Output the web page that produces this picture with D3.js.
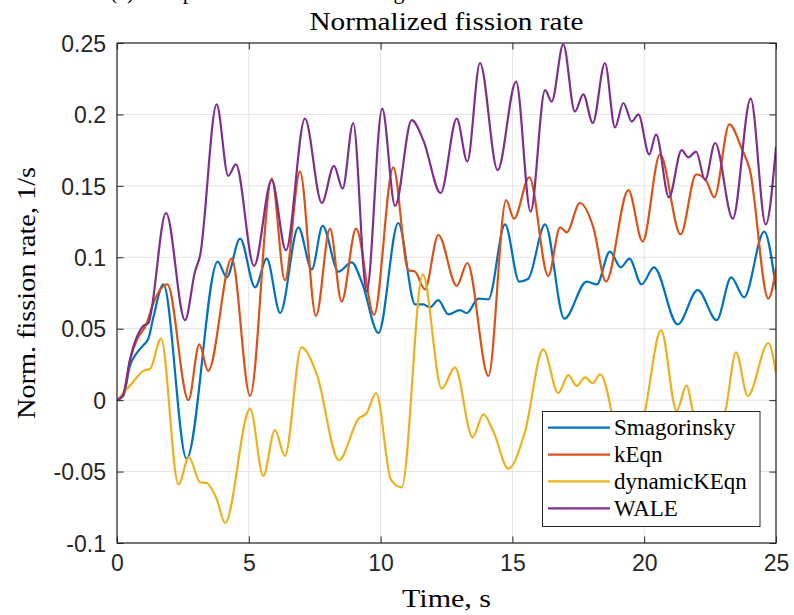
<!DOCTYPE html>
<html><head><meta charset="utf-8">
<script src="https://cdn.jsdelivr.net/npm/d3@7"></script>
<style>
html,body{margin:0;padding:0;background:#fff;}
svg{display:block;}
</style></head>
<body>
<svg id="chart" width="794" height="615"></svg>
<script>
// ---------- data ----------
const seriesNames = ["Smagorinsky", "kEqn", "dynamicKEqn", "WALE"];
const seriesColors = ["#0072BD", "#D95319", "#EDB120", "#7E2F8E"];

const smagT = [0,0.24,0.49,0.75,1.0,1.19,1.38,1.76,2.64,3.82,4.16,4.67,5.24,5.68,6.19,6.88,7.39,7.80,8.40,8.90,9.30,9.92,10.67,11.31,11.62,11.87,12.19,12.57,13.01,13.27,13.71,14.09,14.72,15.26,15.60,16.24,16.97,17.82,18.20,18.70,19.11,19.44,19.90,20.37,21.27,22.03,22.75,23.30,23.79,24.55,25];
const smagV = [0,0.003,0.024,0.033,0.0385,0.043,0.058,0.081,-0.041,0.097,0.086,0.113,0.079,0.099,0.061,0.121,0.0915,0.122,0.090,0.0965,0.082,0.047,0.124,0.067,0.067,0.065,0.070,0.060,0.063,0.061,0.071,0.0706,0.123,0.083,0.085,0.123,0.057,0.083,0.081,0.104,0.093,0.099,0.081,0.093,0.053,0.077,0.056,0.086,0.072,0.118,0.078];

const keqnT = [0,0.24,0.49,0.75,1.12,1.38,1.91,2.71,3.12,3.46,4.35,5.05,5.87,6.37,6.94,7.55,8.08,8.52,9.07,9.75,10.48,11.05,11.30,11.68,12.19,12.89,13.29,14.09,14.76,15.06,15.64,16.36,16.81,17.06,17.56,18.07,18.55,19.40,19.94,20.60,21.38,21.97,22.34,22.66,23.23,23.70,24.01,24.71,25];
const keqnV = [0,0.004,0.028,0.042,0.0535,0.068,0.081,0.0,0.039,0.0205,0.099,0.003,0.155,0.084,0.160,0.059,0.120,0.069,0.120,0.0596,0.163,0.091,0.090,0.0776,0.1156,0.080,0.096,0.017,0.140,0.127,0.156,0.087,0.121,0.1175,0.138,0.121,0.083,0.147,0.111,0.172,0.116,0.158,0.154,0.142,0.193,0.176,0.161,0.071,0.092];

const dynT = [0,0.49,1.0,1.26,1.67,2.33,2.73,3.15,3.40,3.78,4.10,5.05,5.55,5.99,6.37,7.00,7.58,8.42,9.16,9.47,9.83,10.40,10.80,11.60,12.32,12.82,13.49,13.90,14.28,14.85,15.48,16.17,16.74,17.12,17.44,17.75,18.05,18.33,19.30,20.00,20.64,21.23,21.61,21.85,22.40,23.10,23.48,23.93,24.71,25];
const dynV = [0,0.010,0.0205,0.022,0.043,-0.059,-0.040,-0.0575,-0.058,-0.069,-0.086,-0.006,-0.053,-0.021,-0.039,0.037,0.018,-0.042,-0.013,-0.009,0.005,-0.056,-0.061,0.088,0.008,0.023,-0.026,-0.010,-0.022,-0.048,-0.022,0.0355,0.005,0.0175,0.010,0.016,0.012,0.018,-0.045,-0.010,0.049,-0.0075,0.0103,-0.008,-0.035,-0.006,0.0335,0.003,0.040,0.019];

const waleT = [0,0.24,0.49,1.0,1.19,1.86,2.58,2.96,3.15,3.78,4.22,4.51,5.20,5.87,6.41,7.13,7.77,8.23,8.56,8.96,9.47,10.06,10.55,11.18,11.62,12.28,12.89,13.29,13.77,14.44,15.14,15.69,16.24,16.49,16.93,17.37,17.69,18.05,18.51,18.89,19.21,19.53,19.78,20.19,20.45,20.94,21.42,21.67,21.97,22.31,22.69,23.36,24.04,24.61,25];
const waleV = [0,0.004,0.028,0.052,0.054,0.131,0.056,0.090,0.101,0.207,0.157,0.165,0.094,0.154,0.105,0.197,0.138,0.164,0.148,0.194,0.076,0.204,0.136,0.196,0.182,0.145,0.197,0.167,0.236,0.161,0.223,0.132,0.217,0.209,0.249,0.202,0.214,0.194,0.236,0.191,0.208,0.195,0.200,0.172,0.186,0.142,0.175,0.170,0.174,0.154,0.180,0.127,0.211,0.123,0.177];

const xTicks = [0,5,10,15,20,25];
const xTickLabels = ["0","5","10","15","20","25"];
const yTicks = [-0.1,-0.05,0,0.05,0.1,0.15,0.2,0.25];
const yTickLabels = ["-0.1","-0.05","0","0.05","0.1","0.15","0.2","0.25"];

const titleText = "Normalized fission rate";
const xLabelText = "Time, s";
const yLabelText = "Norm. fission rate, 1/s";
const captionText = "(c) Comparison of LES modeling";

// ---------- layout ----------
const L = 117, R = 776, T = 43, B = 543;
const axisColor = "#262626";
const gridColor = "#e3e3e3";
const serif = "'Liberation Serif','Times New Roman',serif";
const sans = "'Liberation Sans',Arial,Helvetica,sans-serif";

const svg = d3.select("#chart");
const x = d3.scaleLinear().domain([0,25]).range([L,R]);
const y = d3.scaleLinear().domain([-0.1,0.25]).range([B,T]);

// caption (partly above the top edge, as in the reference)
svg.append("text").attr("x",110).attr("y",-1)
  .attr("font-family",serif).attr("font-size",22).attr("fill","#000")
  .text(captionText);

// grid
const grid = svg.append("g");
grid.selectAll("line.gx").data(xTicks).join("line")
  .attr("x1",d=>x(d)).attr("x2",d=>x(d)).attr("y1",T).attr("y2",B)
  .attr("stroke",gridColor).attr("stroke-width",1);
grid.selectAll("line.gy").data(yTicks).join("line")
  .attr("x1",L).attr("x2",R).attr("y1",d=>y(d)).attr("y2",d=>y(d))
  .attr("stroke",gridColor).attr("stroke-width",1);

// clip
svg.append("defs").append("clipPath").attr("id","clip")
  .append("rect").attr("x",L).attr("y",T).attr("width",R-L).attr("height",B-T);

const line = d3.line().x(d=>x(d[0])).y(d=>y(d[1])).curve(d3.curveMonotoneX);
const allT = [smagT, keqnT, dynT, waleT];
const allV = [smagV, keqnV, dynV, waleV];
const gl = svg.append("g").attr("clip-path","url(#clip)");
allT.forEach((ts,i)=>{
  const pts = ts.map((t,j)=>[t, allV[i][j]]);
  gl.append("path").attr("d", line(pts)).attr("fill","none")
    .attr("stroke", seriesColors[i]).attr("stroke-width",2.2)
    .attr("stroke-linejoin","round").attr("stroke-linecap","round");
});

// axes
const tk = 6.6;
function styleAxis(g){
  g.select(".domain").remove();
  g.selectAll(".tick line").attr("stroke",axisColor).attr("stroke-width",1);
  g.selectAll(".tick text").attr("fill",axisColor).attr("font-family",sans).attr("font-size",23);
}
svg.append("g").attr("transform",`translate(${L},0)`)
  .call(d3.axisLeft(y).tickValues(yTicks).tickFormat((d,i)=>yTickLabels[i]).tickSizeInner(-tk).tickSizeOuter(0).tickPadding(11))
  .call(styleAxis)
  .call(g=>g.selectAll(".tick text").attr("dy","0.36em"));
svg.append("g").attr("transform",`translate(${R},0)`)
  .call(d3.axisRight(y).tickValues(yTicks).tickFormat("").tickSizeInner(-tk).tickSizeOuter(0))
  .call(styleAxis);
svg.append("g").attr("transform",`translate(0,${B})`)
  .call(d3.axisBottom(x).tickValues(xTicks).tickFormat((d,i)=>xTickLabels[i]).tickSizeInner(-tk).tickSizeOuter(0).tickPadding(12))
  .call(styleAxis)
  .call(g=>g.selectAll(".tick text").attr("dy","0.71em"));
svg.append("g").attr("transform",`translate(0,${T})`)
  .call(d3.axisTop(x).tickValues(xTicks).tickFormat("").tickSizeInner(-tk).tickSizeOuter(0))
  .call(styleAxis);

svg.append("rect").attr("x",L).attr("y",T).attr("width",R-L).attr("height",B-T)
  .attr("fill","none").attr("stroke",axisColor).attr("stroke-width",1.2);

// title and labels
svg.append("text").attr("x",(L+R)/2).attr("y",30).attr("text-anchor","middle")
  .attr("font-family",serif).attr("font-size",26).attr("fill","#000")
  .attr("textLength",274).attr("lengthAdjust","spacingAndGlyphs")
  .text(titleText);
svg.append("text").attr("x",(L+R)/2).attr("y",607).attr("text-anchor","middle")
  .attr("font-family",serif).attr("font-size",25).attr("fill","#000")
  .attr("textLength",89).attr("lengthAdjust","spacingAndGlyphs")
  .text(xLabelText);
svg.append("text").attr("transform",`translate(35,${(T+B)/2}) rotate(-90)`).attr("text-anchor","middle")
  .attr("font-family",serif).attr("font-size",25).attr("fill","#000")
  .attr("textLength",252).attr("lengthAdjust","spacingAndGlyphs")
  .text(yLabelText);

// legend
const lg = svg.append("g");
lg.append("rect").attr("x",542.5).attr("y",411.5).attr("width",217.5).attr("height",115)
  .attr("fill","#fff").attr("stroke",axisColor).attr("stroke-width",1);
const rowY = d3.scalePoint().domain(seriesNames).range([427.7,508.3]);
seriesNames.forEach((n,i)=>{
  lg.append("line").attr("x1",548).attr("x2",610).attr("y1",rowY(n)).attr("y2",rowY(n))
    .attr("stroke",seriesColors[i]).attr("stroke-width",2.2);
  lg.append("text").attr("x",614).attr("y",rowY(n)+7.5)
    .attr("font-family",serif).attr("font-size",23).attr("fill","#000").text(n);
});
</script>
</body></html>
